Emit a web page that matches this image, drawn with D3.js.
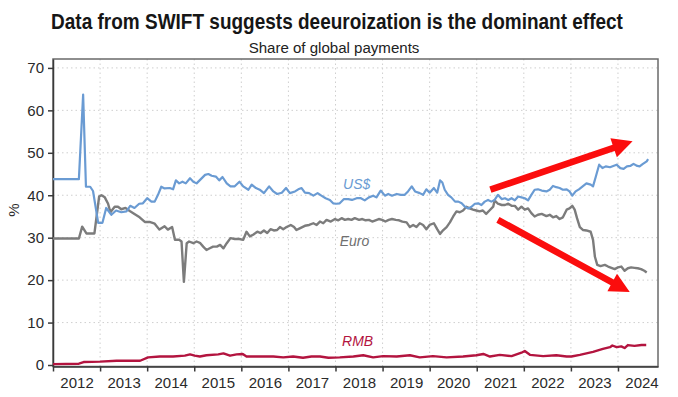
<!DOCTYPE html>
<html lang="en">
<head>
<meta charset="UTF-8">
<title>Share of global payments</title>
<script src="https://d3js.org/d3.v7.min.js"></script>
<style>
  body { margin: 0; background: #fff; }
  svg { display: block; font-family: "Liberation Sans", Arial, sans-serif; }
  .grid line { stroke: #cfcfcf; stroke-width: 1; stroke-dasharray: 1.5 3; }
  .axis path, .axis line { stroke: #3a3a3a; stroke-width: 1.5; }
  .axis text { font-size: 15px; fill: #2a2a2a; }
  .series { fill: none; stroke-linejoin: round; }
  .lbl { font-style: italic; font-size: 14px; }
</style>
</head>
<body>
<svg id="chart" width="678" height="397"></svg>
<script>
// time is in decimal years, values in % of global payments
const usdT = [2012.00,2012.55,2012.64,2012.70,2012.79,2012.85,2012.96,2013.05,2013.13,2013.24,2013.34,2013.45,2013.56,2013.64,2013.73,2013.83,2013.91,2014.00,2014.09,2014.16,2014.23,2014.30,2014.37,2014.48,2014.55,2014.61,2014.68,2014.75,2014.82,2014.91,2014.98,2015.05,2015.14,2015.23,2015.30,2015.37,2015.46,2015.53,2015.60,2015.69,2015.77,2015.86,2015.96,2016.04,2016.15,2016.22,2016.31,2016.39,2016.48,2016.59,2016.68,2016.76,2016.86,2016.95,2017.03,2017.14,2017.21,2017.28,2017.35,2017.44,2017.53,2017.62,2017.70,2017.79,2017.88,2017.95,2018.02,2018.09,2018.18,2018.27,2018.35,2018.45,2018.54,2018.62,2018.71,2018.80,2018.87,2018.96,2019.05,2019.12,2019.20,2019.30,2019.39,2019.47,2019.54,2019.62,2019.69,2019.79,2019.86,2019.93,2020.00,2020.09,2020.16,2020.22,2020.27,2020.32,2020.39,2020.46,2020.54,2020.61,2020.68,2020.75,2020.82,2020.89,2020.96,2021.03,2021.10,2021.17,2021.24,2021.31,2021.38,2021.45,2021.53,2021.60,2021.67,2021.74,2021.81,2021.88,2021.95,2022.02,2022.09,2022.16,2022.23,2022.30,2022.38,2022.48,2022.55,2022.62,2022.69,2022.76,2022.83,2022.91,2022.97,2023.03,2023.10,2023.17,2023.25,2023.33,2023.42,2023.47,2023.53,2023.60,2023.67,2023.74,2023.83,2023.90,2023.97,2024.05,2024.12,2024.19,2024.26,2024.33,2024.41,2024.46,2024.53,2024.61,2024.64];
const usdV = [43.8,43.8,63.7,42.0,42.0,41.0,33.5,33.5,37.0,35.4,36.4,36.0,36.2,37.5,37.0,38.0,38.1,39.3,38.5,38.5,40.1,42.0,41.6,41.7,41.4,43.5,42.8,43.2,42.8,44.0,43.2,42.8,43.8,44.8,45.0,44.6,44.4,43.5,44.3,42.8,42.1,42.1,43.2,42.1,41.3,42.5,41.7,41.3,40.5,42.1,40.9,40.3,40.6,41.7,40.5,40.9,41.4,41.7,40.6,40.5,39.9,40.5,39.9,39.3,38.9,38.1,38.0,38.1,39.1,39.1,38.9,39.3,39.3,38.8,39.5,39.9,39.5,41.1,39.9,40.3,39.9,40.3,40.1,40.1,40.9,42.1,40.9,40.5,40.1,41.4,40.6,41.7,40.6,43.5,43.0,41.3,40.1,39.5,38.5,38.5,38.1,37.3,36.9,37.3,38.0,38.1,37.7,38.5,38.9,38.5,38.9,40.1,39.1,39.3,38.9,39.3,38.8,39.7,39.5,39.3,38.8,40.1,41.3,41.4,41.1,40.9,41.3,42.2,41.9,41.7,41.3,41.4,40.9,39.9,40.9,41.4,42.1,42.8,42.5,42.1,44.4,47.2,46.4,46.8,46.6,46.9,47.2,46.4,46.2,46.8,46.9,47.4,46.9,46.8,47.4,48.0,48.5];

const eurT = [2012.00,2012.55,2012.62,2012.71,2012.88,2012.98,2013.03,2013.10,2013.17,2013.22,2013.31,2013.38,2013.45,2013.54,2013.63,2013.73,2013.84,2013.95,2014.05,2014.16,2014.26,2014.37,2014.44,2014.53,2014.59,2014.68,2014.73,2014.78,2014.84,2014.89,2014.98,2015.05,2015.12,2015.19,2015.26,2015.33,2015.40,2015.48,2015.55,2015.62,2015.69,2015.77,2015.86,2015.96,2016.04,2016.11,2016.18,2016.25,2016.34,2016.41,2016.48,2016.55,2016.62,2016.69,2016.76,2016.82,2016.89,2016.96,2017.05,2017.12,2017.17,2017.24,2017.35,2017.44,2017.53,2017.60,2017.67,2017.74,2017.81,2017.90,2017.99,2018.06,2018.13,2018.20,2018.27,2018.34,2018.41,2018.50,2018.57,2018.64,2018.71,2018.78,2018.85,2018.92,2018.99,2019.06,2019.13,2019.20,2019.28,2019.35,2019.42,2019.51,2019.58,2019.65,2019.72,2019.79,2019.86,2019.93,2020.00,2020.09,2020.16,2020.22,2020.29,2020.36,2020.43,2020.50,2020.57,2020.64,2020.71,2020.78,2020.85,2020.92,2020.99,2021.06,2021.13,2021.20,2021.27,2021.35,2021.38,2021.45,2021.53,2021.60,2021.67,2021.74,2021.81,2021.88,2021.95,2022.02,2022.09,2022.16,2022.23,2022.30,2022.38,2022.48,2022.55,2022.62,2022.69,2022.76,2022.83,2022.91,2022.97,2023.03,2023.08,2023.13,2023.19,2023.26,2023.33,2023.42,2023.47,2023.51,2023.56,2023.63,2023.72,2023.79,2023.86,2023.93,2024.00,2024.07,2024.14,2024.21,2024.28,2024.35,2024.42,2024.49,2024.56,2024.61];
const eurV = [29.8,29.8,32.6,31.0,31.0,39.7,40.0,39.5,38.0,36.0,37.3,37.3,36.7,37.0,36.3,35.6,34.8,33.7,33.7,33.3,31.9,32.7,31.9,32.5,29.5,29.5,29.1,19.6,28.7,29.1,28.7,29.1,28.8,27.9,27.1,27.5,27.9,27.9,28.3,27.5,28.7,29.9,29.7,29.7,29.5,31.4,30.3,30.7,31.4,31.1,31.7,31.1,32.0,31.7,31.8,32.5,32.0,32.5,33.0,32.5,31.8,32.2,32.8,33.0,33.4,33.0,33.8,33.4,34.2,33.8,34.4,34.1,34.6,34.2,34.4,34.2,34.6,34.2,34.4,34.1,34.2,33.8,34.1,34.4,34.2,33.8,34.2,34.4,34.2,34.1,33.8,33.6,32.5,33.0,32.5,33.4,33.0,32.0,33.0,33.4,32.0,30.9,31.8,32.5,33.6,35.0,36.2,36.0,36.4,37.3,36.9,36.6,36.4,36.2,36.4,35.6,36.4,37.3,38.8,38.0,37.7,37.7,38.0,37.5,37.5,36.6,37.3,36.6,36.9,35.8,35.0,35.4,35.6,35.1,35.4,34.8,35.1,34.4,34.8,36.6,36.9,37.5,36.6,34.6,32.5,31.8,31.7,31.4,29.5,25.5,23.6,23.3,23.6,23.2,22.9,22.6,23.0,23.2,22.2,22.8,23.0,22.9,22.8,22.6,22.2,21.8];

const rmbT = [2012.00,2012.55,2012.60,2012.65,2013.00,2013.35,2013.85,2014.02,2014.27,2014.55,2014.80,2014.91,2015.01,2015.12,2015.26,2015.51,2015.62,2015.76,2015.90,2016.03,2016.11,2016.39,2016.68,2016.89,2017.10,2017.31,2017.49,2017.67,2017.85,2018.09,2018.38,2018.59,2018.80,2019.01,2019.30,2019.58,2019.79,2020.07,2020.36,2020.71,2020.99,2021.14,2021.28,2021.49,2021.74,2021.95,2022.02,2022.13,2022.41,2022.69,2022.91,2023.01,2023.19,2023.47,2023.68,2023.83,2023.88,2023.97,2024.07,2024.14,2024.21,2024.35,2024.50,2024.60];
const rmbV = [0.2,0.3,0.5,0.7,0.8,1.0,1.0,1.8,2.0,2.0,2.2,2.5,2.2,2.0,2.3,2.5,2.75,2.2,2.5,2.6,2.0,2.0,2.0,1.8,2.0,1.7,2.0,2.0,1.7,1.8,2.0,2.3,1.8,2.1,2.0,2.3,1.8,2.1,1.8,2.0,2.3,2.6,2.0,2.4,2.1,2.9,3.3,2.4,2.1,2.3,2.0,2.0,2.4,3.1,3.8,4.2,4.6,4.2,4.4,4.0,4.7,4.5,4.7,4.7];

const years = d3.range(2012, 2025);
const yTicks = [0, 10, 20, 30, 40, 50, 60, 70];

// series labels and red trend arrows, in data units
const labels = [
  { text: "US$", t: 2018.16, v: 41.5, color: "#6a9bd3" },
  { text: "Euro", t: 2018.09, v: 28.1, color: "#6f6f6f" },
  { text: "RMB", t: 2018.14, v: 4.5, color: "#b3143f" }
];
const arrows = [
  { t0: 2021.29, v0: 41.3, t1: 2024.31, v1: 52.7 },
  { t0: 2021.45, v0: 34.2, t1: 2024.25, v1: 17.2 }
];

const svg = d3.select("#chart");
const pLeft = 53, pRight = 658, pTop = 59, pBottom = 366.5;

const x = d3.scaleLinear().domain([2012, 2024.85]).range([pLeft, pRight]);
const y = d3.scaleLinear().domain([-0.35, 72.1]).range([pBottom, pTop]);

// squeeze a text horizontally so it fills a given width (condensed look)
function fitText(sel, cx, width) {
  const w = sel.node().getComputedTextLength();
  sel.attr("transform", `translate(${cx},0) scale(${width / w},1)`);
}

const title = svg.append("text")
  .attr("x", 0).attr("y", 29)
  .attr("text-anchor", "middle")
  .style("font-size", "22px").style("font-weight", "bold").style("fill", "#161616")
  .text("Data from SWIFT suggests deeuroization is the dominant effect");
fitText(title, 337, 572);

const subtitle = svg.append("text")
  .attr("x", 0).attr("y", 53)
  .attr("text-anchor", "middle")
  .style("font-size", "15px").style("fill", "#222")
  .text("Share of global payments");
fitText(subtitle, 334, 171);

// grid
const grid = svg.append("g").attr("class", "grid");
grid.selectAll(".h").data(yTicks.slice(1)).enter().append("line")
  .attr("x1", pLeft).attr("x2", pRight)
  .attr("y1", d => y(d)).attr("y2", d => y(d));
grid.selectAll(".v").data(years.slice(1)).enter().append("line")
  .attr("x1", d => x(d)).attr("x2", d => x(d))
  .attr("y1", pTop).attr("y2", pBottom);

// frame (top + right)
svg.append("rect")
  .attr("x", pLeft).attr("y", pTop)
  .attr("width", pRight - pLeft).attr("height", pBottom - pTop)
  .attr("fill", "none").attr("stroke", "#6a6a6a").attr("stroke-width", 1.5);

// axes
svg.append("g").attr("class", "axis")
  .attr("transform", `translate(${pLeft},0)`)
  .call(d3.axisLeft(y).tickValues(yTicks).tickSize(5).tickSizeOuter(0).tickPadding(4));

svg.append("g").attr("class", "axis")
  .attr("transform", `translate(0,${pBottom})`)
  .call(d3.axisBottom(x).tickValues(years).tickSize(5).tickSizeOuter(0).tickFormat(""));

svg.append("g").attr("class", "axis")
  .attr("transform", `translate(0,${pBottom})`)
  .call(d3.axisBottom(x).tickValues(years.map(d => d + 0.5)).tickSize(0).tickPadding(11)
    .tickFormat(d => Math.floor(d)))
  .call(g => g.select(".domain").remove());

svg.append("text")
  .attr("transform", "translate(19,210) rotate(-90)")
  .attr("text-anchor", "middle")
  .style("font-size", "15px").style("fill", "#2a2a2a")
  .text("%");

// lines
const line = d3.line().x(d => x(d[0])).y(d => y(d[1]));
const series = [
  { t: eurT, v: eurV, color: "#7c7c7c", w: 2.4 },
  { t: usdT, v: usdV, color: "#6a9bd3", w: 2.2 },
  { t: rmbT, v: rmbV, color: "#b3143f", w: 2.4 }
];
svg.selectAll(".series").data(series).enter().append("path")
  .attr("class", "series")
  .attr("stroke", d => d.color)
  .attr("stroke-width", d => d.w)
  .attr("d", d => line(d.t.map((t, i) => [t, d.v[i]])));

svg.selectAll(".lbl").data(labels).enter().append("text")
  .attr("class", "lbl")
  .attr("x", d => x(d.t)).attr("y", d => y(d.v))
  .style("fill", d => d.color)
  .text(d => d.text);

// red arrows
function arrowPoints(a) {
  const x0 = x(a.t0), y0 = y(a.v0), x1 = x(a.t1), y1 = y(a.v1);
  const dx = x1 - x0, dy = y1 - y0, len = Math.hypot(dx, dy);
  const ux = dx / len, uy = dy / len, nx = -uy, ny = ux;
  const sw = 3.3, hw = 10, hl = 20;
  const bx = x1 - ux * hl, by = y1 - uy * hl;
  return [
    [x0 + nx * sw, y0 + ny * sw], [bx + nx * sw, by + ny * sw], [bx + nx * hw, by + ny * hw],
    [x1, y1],
    [bx - nx * hw, by - ny * hw], [bx - nx * sw, by - ny * sw], [x0 - nx * sw, y0 - ny * sw]
  ];
}
svg.selectAll(".arrow").data(arrows).enter().append("polygon")
  .attr("fill", "#fb0d0d")
  .attr("points", d => arrowPoints(d).map(p => p.join(",")).join(" "));
</script>
</body>
</html>
